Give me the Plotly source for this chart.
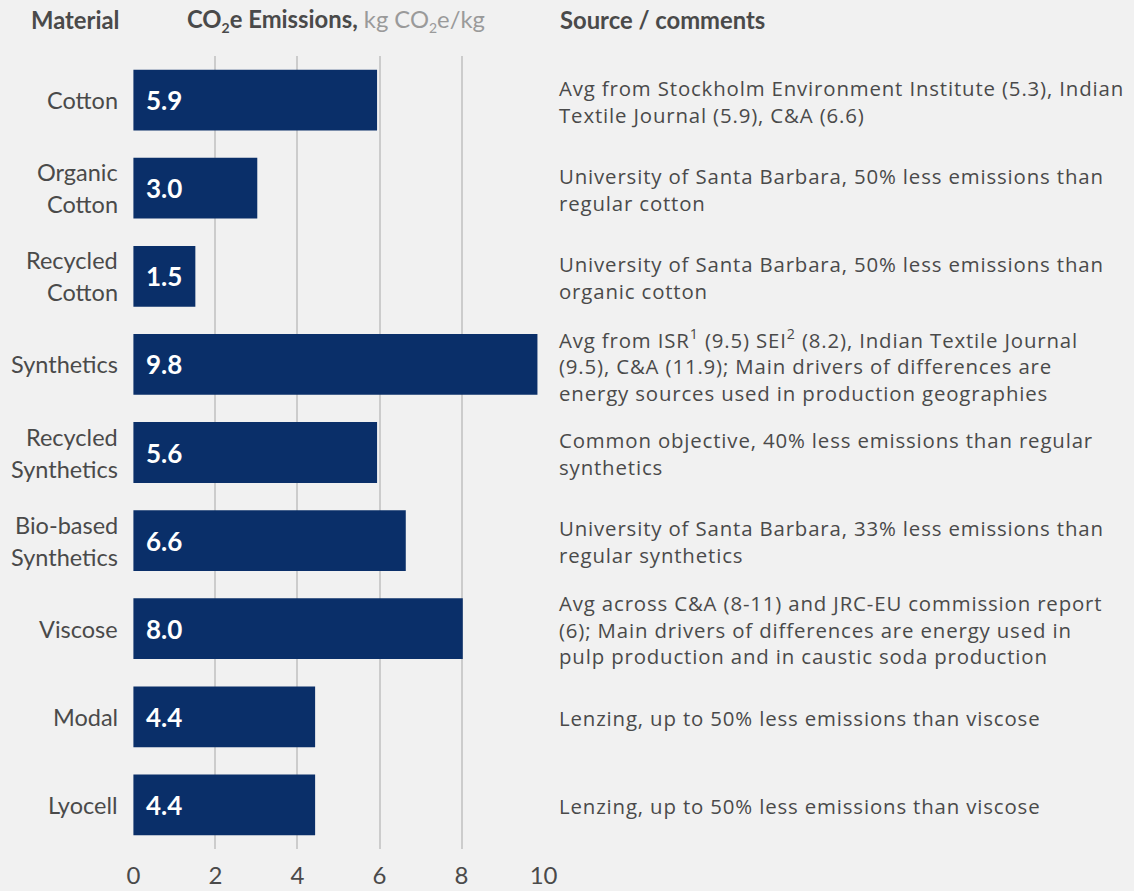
import plotly.graph_objects as go

materials = ["Cotton", "Organic<br>Cotton", "Recycled<br>Cotton", "Synthetics",
             "Recycled<br>Synthetics", "Bio-based<br>Synthetics", "Viscose", "Modal", "Lyocell"]
bar_values = [5.94, 3.02, 1.51, 9.85, 5.94, 6.64, 8.03, 4.43, 4.43]
value_labels = ["5.9", "3.0", "1.5", "9.8", "5.6", "6.6", "8.0", "4.4", "4.4"]
comments = [
    "Avg from Stockholm Environment Institute (5.3), Indian<br>Textile Journal (5.9), C&A (6.6)",
    "University of Santa Barbara, 50% less emissions than<br>regular cotton",
    "University of Santa Barbara, 50% less emissions than<br>organic cotton",
    "Avg from ISR<sup>1</sup> (9.5) SEI<sup>2</sup> (8.2), Indian Textile Journal<br>(9.5), C&A (11.9); Main drivers of differences are<br>energy sources used in production geographies",
    "Common objective, 40% less emissions than regular<br>synthetics",
    "University of Santa Barbara, 33% less emissions than<br>regular synthetics",
    "Avg across C&A (8-11) and JRC-EU commission report<br>(6); Main drivers of differences are energy used in<br>pulp production and in caustic soda production",
    "Lenzing, up to 50% less emissions than viscose",
    "Lenzing, up to 50% less emissions than viscose",
]
x_ticks = [0, 2, 4, 6, 8, 10]

FONT = "Lato"
FONT2 = "Open Sans"
TXT = "#4a4a4a"
BAR = "#0a2f69"
BG = "#f1f1f1"

fig = go.Figure()
fig.add_trace(go.Bar(
    y=materials, x=bar_values, orientation="h",
    marker=dict(color=BAR, line=dict(width=0)),
    width=0.69, hoverinfo="skip",
))

# category labels (one annotation per line for control of line spacing)
for m in materials:
    lines = m.split("<br>")
    n = len(lines)
    for i, ln in enumerate(lines):
        fig.add_annotation(x=0, y=m, xref="paper", yref="y", text=ln,
                           showarrow=False, xanchor="right", yanchor="middle",
                           xshift=-13, yshift=-(i - (n - 1) / 2) * 32,
                           font=dict(family=FONT, size=23.5, color=TXT))

for m, lab in zip(materials, value_labels):
    fig.add_annotation(x=0, y=m, xref="x", yref="y", text="<b>%s</b>" % lab,
                       showarrow=False, xanchor="left", yanchor="middle", xshift=11,
                       font=dict(family=FONT, size=26, color="white"))

for m, c in zip(materials, comments):
    txt = "<br>".join("<span style='letter-spacing:0.85px'>%s</span>" % ln for ln in c.split("<br>"))
    fig.add_annotation(x=1, y=m, xref="paper", yref="y", text=txt, align="left",
                       showarrow=False, xanchor="left", yanchor="middle", xshift=13, yshift=-1,
                       font=dict(family=FONT2, size=20.4, color=TXT))

SUB = "<sub><span style='font-size:14px'>2</span></sub>"
headers = [
    (0.0, "<b>Material</b>", "right", -12),
    (0.0, "<b>CO%se Emissions,</b> <span style='color:#9a9a9a'>kg CO%se/kg</span>" % (SUB, SUB), "left", 52),
    (1.0, "<b>Source / comments</b>", "left", 14),
]
for xp, t, anc, xs in headers:
    fig.add_annotation(x=xp, y=1, xref="paper", yref="paper", text=t, showarrow=False,
                       xanchor=anc, yanchor="middle", xshift=xs, yshift=36,
                       font=dict(family=FONT, size=23.8, color=TXT))

fig.update_layout(
    width=1134, height=891,
    margin=dict(l=133, r=590, t=56, b=42),
    paper_bgcolor=BG, plot_bgcolor=BG,
    showlegend=False,
    font=dict(family=FONT, color=TXT),
    xaxis=dict(range=[-0.01, 10.01], tickvals=x_ticks, showgrid=True, gridcolor="#cccccc",
               gridwidth=2, zeroline=False, showline=False, fixedrange=True, automargin=False,
               tickfont=dict(family=FONT, size=24, color=TXT), ticklabelstandoff=10),
    yaxis=dict(autorange="reversed", showgrid=False, zeroline=False, showline=False,
               showticklabels=False, automargin=False),
)
fig.write_html("out.html", config={"displayModeBar": False},
               post_script="document.body.style.margin='0';")
